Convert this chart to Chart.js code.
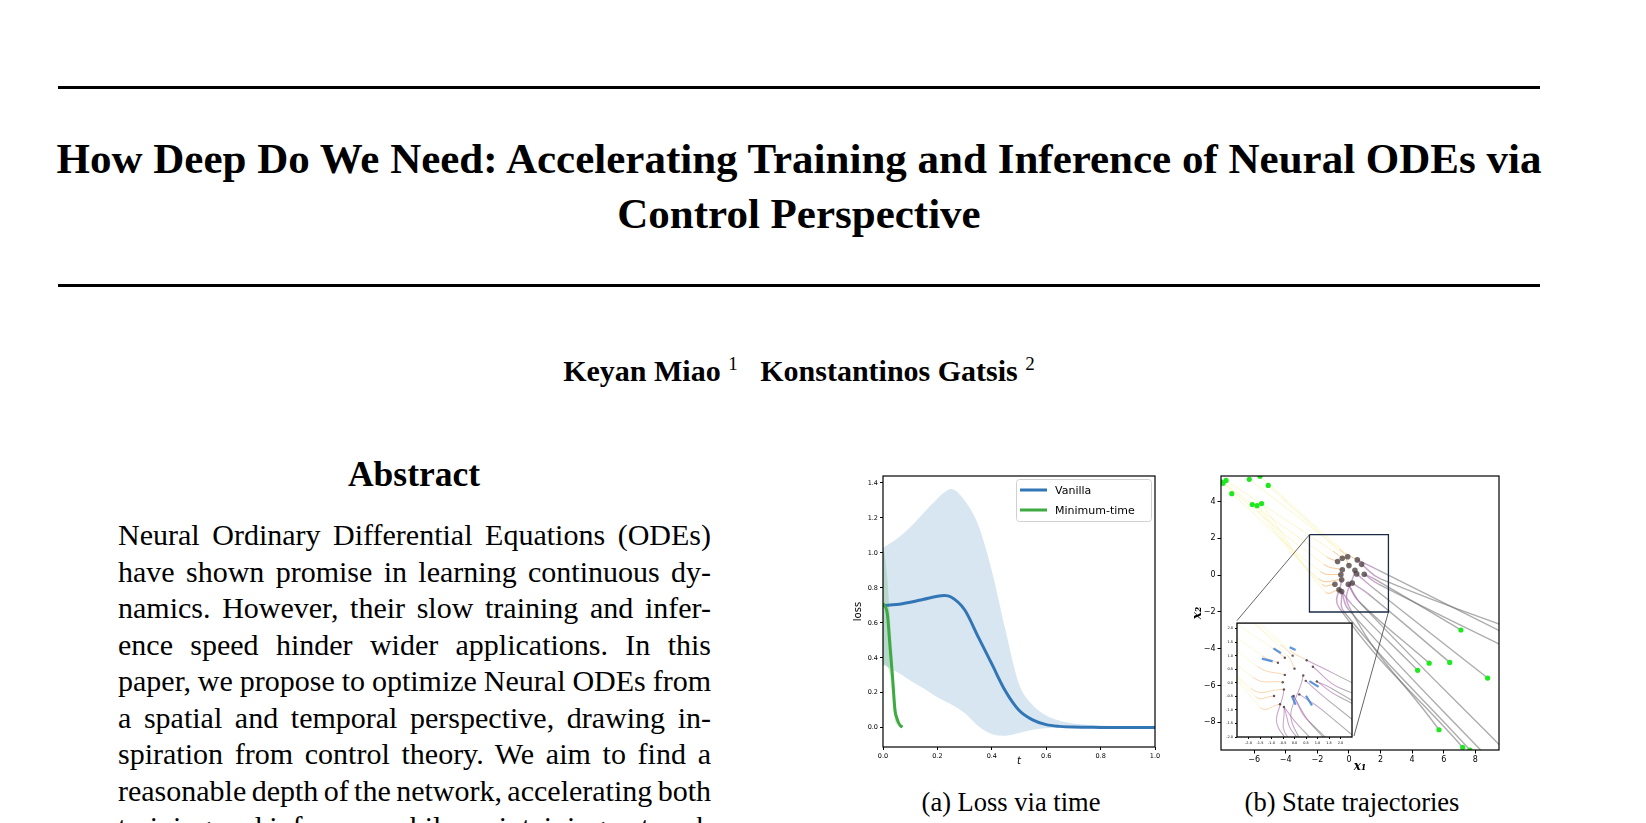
<!DOCTYPE html>
<html>
<head>
<meta charset="utf-8">
<script src="https://cdn.jsdelivr.net/npm/chart.js@4.4.0/dist/chart.umd.min.js"></script>
<style>
  body { margin: 0; background: #fff; width: 1646px; height: 823px; overflow: hidden; position: relative;
         font-family: "Liberation Serif", "Times New Roman", serif; color: #000; }
  .rule { position: absolute; left: 58px; width: 1482px; height: 3px; background: #000; }
  .title { position: absolute; left: 0; width: 1598px; text-align: center; font-weight: bold;
           font-size: 43px; line-height: 50px; white-space: nowrap; }
  .authors { position: absolute; left: 0; width: 1598px; text-align: center; font-weight: bold;
             font-size: 30px; line-height: 40px; white-space: nowrap; }
  .authors sup { font-weight: normal; font-size: 19px; vertical-align: 11px; line-height: 0; }
  .abshead { position: absolute; left: 214px; width: 400px; text-align: center; font-weight: bold;
             font-size: 35.5px; line-height: 44px; }
  .absline { position: absolute; left: 118px; width: 593px; font-size: 30px; line-height: 36px;
             text-align: justify; text-align-last: justify; white-space: nowrap; }
  .caption { position: absolute; width: 400px; text-align: center; font-size: 26.5px; line-height: 34px; white-space: nowrap; }
  .box { position: absolute; }
</style>
</head>
<body>
<div class="rule" style="top:86px"></div>
<div class="title" style="top:134px">How Deep Do We Need: Accelerating Training and Inference of Neural ODEs via</div>
<div class="title" style="top:189px">Control Perspective</div>
<div class="rule" style="top:284px"></div>
<div class="authors" style="top:351px">Keyan Miao <sup>1</sup>&nbsp;&nbsp; Konstantinos Gatsis <sup>2</sup></div>

<div class="abshead" style="top:452px">Abstract</div>
<div id="abstract"></div>

<div class="box" id="boxA" style="left:850px; top:466px; width:315px; height:303px;"><canvas id="lossChart"></canvas></div>
<div class="box" id="boxB" style="left:1191px; top:466px; width:318px; height:308px;"><canvas id="stateChart"></canvas></div>
<div class="box" id="boxI" style="left:1225px; top:619px; width:131px; height:128px;"><canvas id="insetChart"></canvas></div>

<div class="caption" style="left:811px; top:785px">(a)&nbsp;Loss via time</div>
<div class="caption" style="left:1152px; top:785px">(b)&nbsp;State trajectories</div>

<script>
// abstract text, one entry per printed line
const abstractLines = [
  "Neural Ordinary Differential Equations (ODEs)",
  "have shown promise in learning continuous dy-",
  "namics. However, their slow training and infer-",
  "ence speed hinder wider applications. In this",
  "paper, we propose to optimize Neural ODEs from",
  "a spatial and temporal perspective, drawing in-",
  "spiration from control theory. We aim to find a",
  "reasonable depth of the network, accelerating both",
  "training and inference while maintaining network"
];

// ---- (a) loss via time ----
const lossTime     = [0, 0.05, 0.1, 0.15, 0.2, 0.225, 0.25, 0.3, 0.35, 0.4, 0.45, 0.5, 0.55, 0.6, 0.65, 0.7, 0.8, 0.9, 1.0];
const vanillaMean  = [0.70, 0.705, 0.718, 0.735, 0.752, 0.756, 0.748, 0.675, 0.52, 0.365, 0.21, 0.10, 0.045, 0.018, 0.008, 0.004, 0.002, 0.001, 0.001];
const vanillaUpper = [1.03, 1.08, 1.147, 1.23, 1.31, 1.345, 1.365, 1.30, 1.16, 0.90, 0.56, 0.25, 0.13, 0.07, 0.04, 0.025, 0.013, 0.008, 0.006];
const vanillaLower = [0.36, 0.32, 0.27, 0.225, 0.175, 0.155, 0.135, 0.085, 0.01, -0.035, -0.045, -0.03, -0.012, -0.003, 0, 0, 0, 0, 0];

const minTime  = [0, 0.005, 0.016, 0.026, 0.036, 0.044, 0.05, 0.056, 0.064, 0.072];
const minMean  = [0.71, 0.70, 0.65, 0.46, 0.27, 0.10, 0.06, 0.033, 0.012, 0.004];
const minUpper = [1.03, 1.0, 0.85, 0.62, 0.40, 0.18, 0.10, 0.05, 0.02, 0.008];
const minLower = [0.36, 0.36, 0.35, 0.30, 0.15, 0.04, 0.02, 0.015, 0.005, 0.0];

const lossXTicks = [0, 0.2, 0.4, 0.6, 0.8, 1.0];
const lossYTicks = [0, 0.2, 0.4, 0.6, 0.8, 1.0, 1.2, 1.4];

// ---- (b) state trajectories ----
const startsUpper = [[-8.06, 5.06], [-7.97, 4.99], [-7.78, 5.15], [-7.42, 4.43], [-6.31, 5.21],
                     [-5.63, 5.37], [-5.11, 4.88], [-6.12, 3.84], [-5.82, 3.78], [-5.53, 3.89]];
const startsLower = [[4.35, -5.17], [5.08, -4.78], [6.38, -4.74], [7.09, -2.98], [8.78, -5.59],
                     [5.7, -8.4], [7.2, -9.35], [7.66, -9.5]];
const startsOutside = [[12.5, -3.6], [12.5, -4.3], [11, -10.5], [10, -11], [12.5, -5.0]];
const endPoints = [[-0.72, 0.74], [-0.42, 0.92], [-0.08, 1.0], [0.53, 0.83], [0.8, 0.59], [0, 0.52],
                   [-0.42, 0.29], [0.38, 0.27], [0.49, 0.07], [0.97, 0.05], [-0.51, 0.02], [-0.46, -0.25],
                   [-0.89, -0.49], [-0.04, -0.49], [0.21, -0.43], [-0.63, -0.79], [-0.46, -0.89]];
const upperVia = [[-1.4, 1.0], [-1.6, 0.6], [-1.0, 1.3], [-1.8, 0.2], [-0.6, 1.4],
                  [-0.2, 1.2], [-0.3, 1.0], [-1.9, -0.2], [-1.7, -0.5], [-1.5, -0.9]];
const upperEnd = [0, 6, 1, 10, 2, 3, 5, 11, 12, 15];
const lowerVia = [[0.2, -1.6], [0.6, -1.4], [1.2, -1.0], [1.6, -0.2], [1.4, -0.6],
                  [0.0, -1.7], [-0.6, -1.8], [-0.3, -2.0]];
const lowerEnd = [16, 13, 14, 9, 8, 7, 11, 16];
const outsideVia = [[2.0, -0.2], [1.8, 0.3], [0.8, -1.6], [0.0, -1.9], [1.9, -0.5]];
const outsideEnd = [4, 3, 13, 16, 9];

const zoomBox = [-2.5, 2.5, -2.0, 2.2];            // x0, x1, y0, y1
const insetCorners = [[-7.09, -2.47], [0.32, -8.74]]; // inset top-left, bottom-right (main data units)
const insetBlue = [[[-0.91, 1.27], [-0.59, 1.09]], [[-0.21, 1.31], [0.05, 1.21]], [[-1.42, 0.89], [-0.95, 0.79]],
                   [[0.65, 0.06], [1.05, -0.15]], [[-0.12, -0.48], [0.05, -0.81]], [[0.5, -0.48], [0.76, -0.84]]];

const stateXTicks = [-6, -4, -2, 0, 2, 4, 6, 8];
const stateYTicks = [-8, -6, -4, -2, 0, 2, 4];
const insetXTicks = [-2, -1.5, -1, -0.5, 0, 0.5, 1, 1.5, 2];
const insetYTicks = [-2, -1.5, -1, -0.5, 0, 0.5, 1, 1.5, 2];

// write abstract lines (squeeze word gaps where a line is too long)
const absDiv = document.getElementById("abstract");
abstractLines.forEach((line, i) => {
  const d = document.createElement("div");
  d.className = "absline";
  d.style.top = (517 + i * 36.5) + "px";
  d.textContent = line;
  absDiv.appendChild(d);
  const extra = d.scrollWidth - 593;
  if (extra > 0) {
    const gaps = line.split(" ").length - 1;
    d.style.wordSpacing = (-(extra + 1) / gaps) + "px";
  }
});

Chart.defaults.animation = false;
Chart.defaults.events = [];
Chart.defaults.color = "#000";

const pts = (xs, ys) => xs.map((x, i) => ({ x: x, y: ys[i] }));
const xy = arr => arr.map(p => ({ x: p[0], y: p[1] }));
const minus = v => (v < 0 ? "\u2212" : "") + Math.abs(v);

// full box round the plot area, optional white fill
const framePlugin = {
  id: "frame",
  beforeDatasetsDraw(chart, args, opts) {
    if (!opts.fill) return;
    const a = chart.chartArea;
    chart.ctx.save();
    chart.ctx.fillStyle = opts.fill;
    chart.ctx.fillRect(a.left, a.top, a.width, a.height);
    chart.ctx.restore();
  },
  afterDatasetsDraw(chart, args, opts) {
    const a = chart.chartArea;
    const ctx = chart.ctx;
    ctx.save();
    ctx.strokeStyle = "#000";
    ctx.lineWidth = opts.width || 1;
    ctx.strokeRect(a.left, a.top, a.width, a.height);
    ctx.restore();
  }
};

// matplotlib-like legend in the upper right corner
const boxLegend = {
  id: "boxLegend",
  afterDatasetsDraw(chart) {
    const items = chart.data.datasets.filter(d => d.legendRank !== undefined)
      .sort((a, b) => a.legendRank - b.legendRank);
    const ctx = chart.ctx;
    const a = chart.chartArea;
    const w = 135, h = 42;
    const x = a.right - w - 4, y = a.top + 3;
    ctx.save();
    ctx.fillStyle = "rgba(255,255,255,0.85)";
    ctx.strokeStyle = "#d0d0d0";
    ctx.lineWidth = 1;
    ctx.beginPath();
    ctx.roundRect(x + 0.5, y + 0.5, w, h, 3);
    ctx.fill();
    ctx.stroke();
    ctx.font = '11px "DejaVu Sans"';
    ctx.textBaseline = "middle";
    items.forEach((d, i) => {
      const yy = y + 11 + i * 20;
      ctx.strokeStyle = d.borderColor;
      ctx.lineWidth = 3;
      ctx.beginPath();
      ctx.moveTo(x + 4, yy);
      ctx.lineTo(x + 31, yy);
      ctx.stroke();
      ctx.fillStyle = "#000";
      ctx.fillText(d.label, x + 39, yy + 1);
    });
    ctx.restore();
  }
};

function axis(min, max, ticks, size, width, height, title, fmt, tickLen) {
  const a = {
    type: "linear", min: min, max: max,
    afterBuildTicks: s => { s.ticks = ticks.map(v => ({ value: v })); },
    border: { display: false },
    grid: { display: true, drawOnChartArea: false, drawTicks: true, tickLength: tickLen, color: "#000", tickWidth: 1 },
    ticks: { font: { family: "DejaVu Sans", size: size }, padding: 2, callback: fmt, maxRotation: 0, autoSkip: false },
    title: title
  };
  if (width) a.afterFit = s => { s.width = width; };
  if (height) a.afterFit = s => { s.height = height; };
  return a;
}

// ---- chart (a) ----
const blue = "rgb(50,118,182)";
const green = "rgb(63,170,66)";
new Chart(document.getElementById("lossChart"), {
  type: "scatter",
  data: {
    datasets: [
      { label: "Minimum-time", legendRank: 1, data: pts(minTime, minMean), showLine: true, borderColor: green,
        borderWidth: 3, pointRadius: 0, cubicInterpolationMode: "monotone", order: 0 },
      { label: "Vanilla", legendRank: 0, data: pts(lossTime, vanillaMean), showLine: true, borderColor: blue,
        borderWidth: 3, pointRadius: 0, cubicInterpolationMode: "monotone", order: 1 },
      { data: pts(minTime, minUpper), showLine: true, borderWidth: 0, pointRadius: 0, fill: "+1",
        backgroundColor: "rgba(44,160,44,0.2)", cubicInterpolationMode: "monotone", order: 2 },
      { data: pts(minTime, minLower), showLine: true, borderWidth: 0, pointRadius: 0,
        cubicInterpolationMode: "monotone", order: 3 },
      { data: pts(lossTime, vanillaUpper), showLine: true, borderWidth: 0, pointRadius: 0, fill: "+1",
        backgroundColor: "rgba(31,119,180,0.18)", cubicInterpolationMode: "monotone", order: 4 },
      { data: pts(lossTime, vanillaLower), showLine: true, borderWidth: 0, pointRadius: 0,
        cubicInterpolationMode: "monotone", order: 5 }
    ]
  },
  options: {
    responsive: true,
    maintainAspectRatio: false,
    layout: { padding: { top: 10, right: 10, left: 0, bottom: 0 } },
    scales: {
      x: axis(0, 1, lossXTicks, 6.5, null, 22,
        { display: true, text: "t", font: { family: "DejaVu Sans", size: 10, style: "italic" }, padding: { top: 0, bottom: 2 } },
        v => v.toFixed(1), 3),
      y: axis(-0.11, 1.44, lossYTicks, 6.5, 33, null,
        { display: true, text: "loss", font: { family: "DejaVu Sans", size: 10 }, padding: { top: 2, bottom: 1 } },
        v => v.toFixed(1), 3)
    },
    plugins: { legend: { display: false }, tooltip: { enabled: false }, frame: { width: 1.2 } }
  },
  plugins: [framePlugin, boxLegend]
});

// ---- chart (b) ----
const yellowLine = "rgba(248,240,150,0.55)";
const orangeTip = "rgba(244,170,90,0.7)";
const grayLine = "rgba(105,105,105,0.55)";
const purpleTip = "rgba(165,105,170,0.6)";

function trajectory(points, base, tip, lw) {
  return {
    data: xy(points), showLine: true, pointRadius: 0, borderWidth: lw, tension: 0.45,
    borderColor: base, segment: { borderColor: c => (c.p0DataIndex === 0 ? base : tip) }, order: 6
  };
}

function trajectorySets(lw) {
  const out = [];
  startsUpper.forEach((s, i) => out.push(trajectory([s, upperVia[i], endPoints[upperEnd[i]]], yellowLine, orangeTip, lw * 0.85)));
  startsLower.forEach((s, i) => out.push(trajectory([s, lowerVia[i], endPoints[lowerEnd[i]]], grayLine, purpleTip, lw * 1.3)));
  startsOutside.forEach((s, i) => out.push(trajectory([s, outsideVia[i], endPoints[outsideEnd[i]]], grayLine, purpleTip, lw * 1.3)));
  return out;
}

const rectPts = [[zoomBox[0], zoomBox[3]], [zoomBox[1], zoomBox[3]], [zoomBox[1], zoomBox[2]], [zoomBox[0], zoomBox[2]], [zoomBox[0], zoomBox[3]]];

new Chart(document.getElementById("stateChart"), {
  type: "scatter",
  data: {
    datasets: [
      { data: xy(endPoints), pointRadius: 2.8, pointBackgroundColor: "rgba(70,58,60,0.75)", pointBorderWidth: 0, order: 0 },
      { data: xy(startsUpper.concat(startsLower)), pointRadius: 2.6, pointBackgroundColor: "#1ee81e", pointBorderWidth: 0, order: 1 },
      { data: xy(rectPts), showLine: true, pointRadius: 0, borderColor: "#1b2b45", borderWidth: 1.3, order: 2 },
      { data: xy([insetCorners[0], rectPts[0]]), showLine: true, pointRadius: 0, borderColor: "#555", borderWidth: 0.9, order: 3 },
      { data: xy([insetCorners[1], rectPts[2]]), showLine: true, pointRadius: 0, borderColor: "#555", borderWidth: 0.9, order: 3 }
    ].concat(trajectorySets(1.1))
  },
  options: {
    responsive: true,
    maintainAspectRatio: false,
    layout: { padding: { top: 10, right: 10, left: 0, bottom: 0 } },
    scales: {
      x: axis(-8.1, 9.5, stateXTicks, 8, null, 24,
        { display: true, text: "x\u2081", font: { family: "DejaVu Serif", size: 12, style: "italic", weight: "bold" }, padding: { top: 0, bottom: 0 } },
        minus, 3.5),
      y: axis(-9.5, 5.39, stateYTicks, 8, 30, null,
        { display: true, text: "x\u2082", font: { family: "DejaVu Serif", size: 12, style: "italic", weight: "bold" }, padding: { top: 0, bottom: 0 } },
        minus, 3.5)
    },
    plugins: { legend: { display: false }, tooltip: { enabled: false }, frame: { width: 1.2 } }
  },
  plugins: [framePlugin]
});

// ---- inset (zoom of the centre) ----
new Chart(document.getElementById("insetChart"), {
  type: "scatter",
  data: {
    datasets: [
      { data: xy(endPoints), pointRadius: 1.2, pointBackgroundColor: "rgba(72,56,58,0.85)", pointBorderWidth: 0, order: 0 }
    ].concat(insetBlue.map(seg => ({
      data: xy(seg), showLine: true, pointRadius: 0, borderColor: "rgba(60,130,210,0.85)", borderWidth: 2.2, order: 1
    }))).concat(trajectorySets(0.8))
  },
  options: {
    responsive: true,
    maintainAspectRatio: false,
    layout: { padding: { top: 2, right: 2, left: 0, bottom: 0 } },
    scales: {
      x: axis(zoomBox[0], zoomBox[1], insetXTicks, 3.5, null, 10, { display: false }, v => v.toFixed(1), 2),
      y: axis(zoomBox[2], zoomBox[3], insetYTicks, 3.5, 12, null, { display: false }, v => v.toFixed(1), 2)
    },
    plugins: { legend: { display: false }, tooltip: { enabled: false }, frame: { width: 1.3, fill: "#fff" } }
  },
  plugins: [framePlugin]
});
</script>
</body>
</html>
